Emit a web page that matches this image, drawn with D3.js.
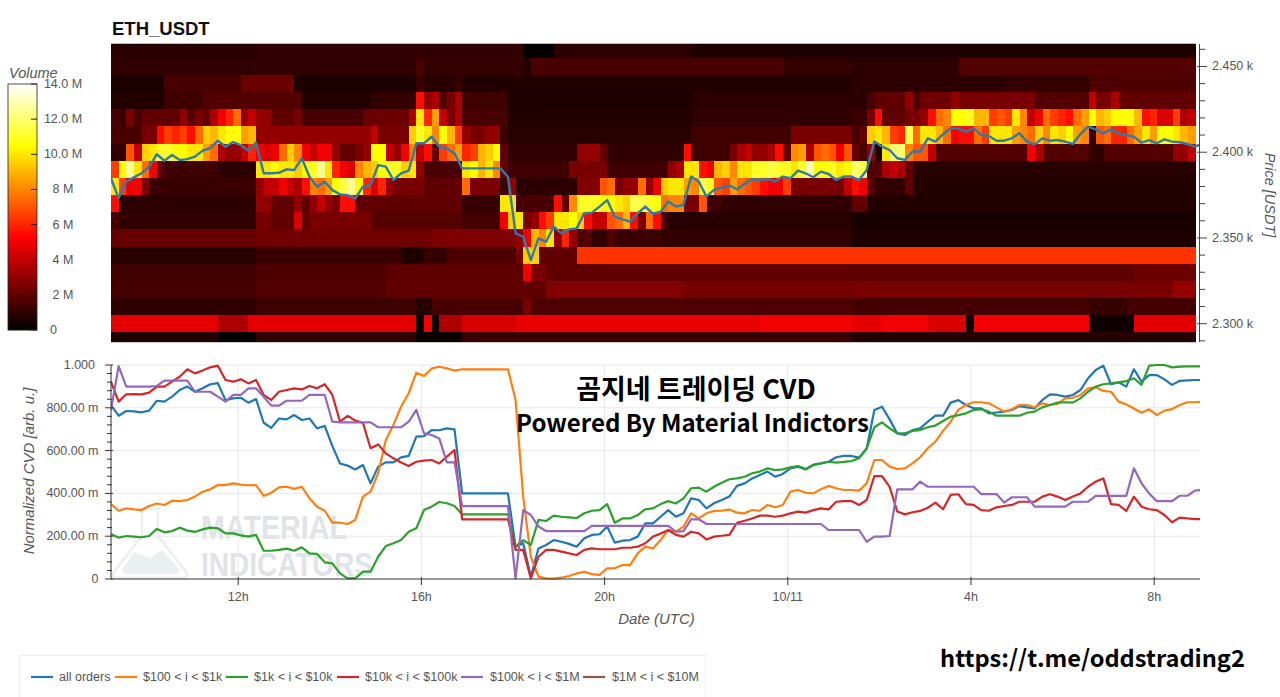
<!DOCTYPE html>
<html><head><meta charset="utf-8">
<style>html,body{margin:0;padding:0;background:#fff;overflow:hidden}svg{display:block}
text{font-family:"Liberation Sans",Arial,sans-serif}</style>
<script src="https://cdn.jsdelivr.net/npm/d3@7"></script></head><body><svg id="c" width="1280" height="697"></svg>
<script>
// ---- DATA ----
const title = "ETH_USDT";
const legendLabels = ["all orders","$100 < i < $1k","$1k < i < $10k","$10k < i < $100k","$100k < i < $1M","$1M < i < $10M"];
const seriesColors = ["#1f77b4","#ff7f0e","#2ca02c","#d62728","#9467bd","#8c564b"];
const volumeTicks = [0,2,4,6,8,10,12,14];
const priceTicks = [2300,2350,2400,2450];
const cvdTicks = [0,200,400,600,800,1000];

// heatmap: for each price bin, [first column, volume in M] runs over 142 columns
const heat2460=[[0,.8],[19,1],[54,.1],[58,.9],[76,.6]];
const heat2450=[[0,1],[40,1.5],[41,1.1],[54,.8],[55,1.5],[88,1.1],[97,.9],[111,1.7]];
const heat2440=[[0,.6],[7,1.5],[17,2.2],[24,.6],[40,1.2],[41,.8],[45,1.2],[46,.7],[97,.9],[117,1.1],[128,1.6]];
const heat2430=[[0,.7],[7,1.3],[12,1.7],[25,.7],[34,1.1],[40,5.5],[41,3],[42,3.5],[43,1.7],[44,2.5],[45,3.5],[46,1.3],[52,.6],[76,.9],[99,1.5],[100,2],[104,3],[105,1.5],[106,2.3],[110,3],[111,2.5],[121,1.7],[128,4],[129,2.5],[131,3.5],[132,2]];
const heat2420=[[0,1.5],[1,1.2],[2,2.5],[3,1.5],[4,2],[9,3],[10,1.8],[11,2.5],[12,2],[13,3.5],[14,5],[15,6],[16,7.5],[17,3],[18,4],[19,3],[21,2],[24,2.5],[25,1.5],[33,2.2],[39,3.5],[40,10],[41,6],[42,8.5],[43,4],[44,2.5],[45,3.5],[46,1.5],[52,.7],[76,1],[97,1.2],[99,2.5],[100,5.5],[101,2],[104,2.5],[106,3],[107,5.5],[108,7.5],[109,8],[110,10.5],[112,11],[113,9],[115,6.5],[116,7],[117,6.5],[118,10],[119,8],[120,4],[121,5],[122,7.5],[123,6.5],[124,6],[125,5.5],[126,7.5],[127,8.5],[128,10.5],[129,9],[130,9.5],[131,10.5],[134,9],[135,5.5],[136,6],[137,4.5],[139,6.5],[140,3.5],[141,4]];
const heat2410=[[0,1.5],[4,2.5],[6,5.5],[7,6.5],[8,6],[9,6.5],[10,5.5],[11,7.5],[12,9.5],[13,9],[14,10],[15,10.5],[17,8.5],[18,9],[19,3],[34,4],[35,2.5],[39,9.5],[40,11],[41,10],[42,8],[43,10.5],[44,9],[45,6.5],[46,3],[47,2.5],[49,3],[51,1.2],[52,.8],[76,1.3],[89,2.5],[97,1.5],[98,2],[99,9.5],[100,10],[101,9],[102,6.5],[103,6],[104,11.5],[105,7.5],[106,10],[108,9],[109,7.5],[110,5],[111,5.5],[113,7.5],[114,6.5],[115,10],[118,8.5],[119,8],[120,7.5],[121,9.5],[122,8],[123,10],[124,9.5],[125,10.5],[126,8.5],[127,8],[128,1],[129,7],[130,7.5],[131,6],[133,7.5],[134,8.5],[135,10],[136,8.5],[137,10.5],[139,10],[140,9],[141,8.5]];
const heat2400=[[0,1],[2,7],[3,4],[4,9.5],[5,10],[6,11],[8,10.5],[10,10],[12,8.5],[13,7.5],[14,3.5],[15,3],[17,4],[18,6],[19,5],[20,4.5],[21,5],[22,7.5],[23,9.5],[24,8],[25,5],[26,4],[27,5],[29,3],[30,2],[32,2.5],[33,3],[34,10.5],[36,4],[37,3],[38,5],[39,8],[40,4],[41,5.5],[42,2],[43,6.5],[44,7.5],[45,8.5],[46,6],[47,6.5],[48,9],[49,9.5],[50,10.5],[51,2],[52,1],[61,3],[64,2],[65,1],[75,5.5],[76,1.3],[81,2.5],[82,3.5],[83,4],[84,3],[86,3.5],[87,5.5],[88,2],[89,8],[90,8.5],[91,3.5],[92,7],[93,7.5],[94,7],[95,5],[96,7],[97,2],[98,1.5],[99,3],[100,.5],[101,10],[102,12],[104,8],[105,7],[107,4],[108,1.7],[120,5],[121,3.5],[122,1.7],[128,1],[130,1.7],[139,3],[141,4]];
const heat2390=[[0,6.5],[1,10.5],[2,12.5],[3,10],[4,7.5],[5,5],[6,2],[7,1.3],[14,.9],[19,10],[21,10.5],[22,10],[24,9.5],[25,10.5],[26,11],[27,12.5],[28,10],[29,6],[30,5],[31,4.5],[32,8],[33,9],[34,9.5],[35,10.5],[36,11],[38,9.5],[39,10],[40,3],[41,1.5],[46,10],[47,10.5],[48,9],[49,10],[50,8],[51,2],[52,1.3],[60,2.5],[65,1.3],[73,3],[74,3.5],[75,10],[77,5.5],[78,5],[79,9],[80,9.5],[81,8],[82,10],[84,11],[86,11.5],[87,11],[89,10],[90,11],[91,13],[92,10.5],[94,11],[95,10],[96,10.5],[97,12],[98,11.5],[99,1.7],[101,3.5],[102,4],[103,3.5],[104,2],[105,.8]];
const heat2380=[[0,10],[1,6.5],[2,5],[4,2.5],[5,1.2],[19,3],[20,4],[22,5],[23,4],[24,3.5],[25,5.5],[26,8],[27,7.5],[28,8.5],[29,10.5],[30,11.5],[31,12.5],[32,10.5],[33,6],[34,4.5],[35,6],[36,3],[37,2.5],[41,2],[46,7.5],[47,2.5],[51,1.2],[52,3],[53,.9],[61,2.7],[64,7],[65,7.5],[66,2.5],[67,3],[69,7.5],[70,3],[71,5],[72,9.5],[73,10],[75,8.5],[76,8],[77,11.5],[78,11],[79,7],[80,6.5],[81,8.5],[82,7.5],[83,7],[84,6.5],[85,5.5],[86,5],[88,6.5],[89,2.5],[96,4],[97,5.5],[98,5],[99,1.7],[100,1],[104,2],[105,.7]];
const heat2370=[[0,5.5],[1,.9],[19,3],[21,2],[24,3],[25,2],[26,3],[27,4],[28,3],[29,2.5],[30,5.5],[32,2],[46,1.1],[51,10],[53,1.5],[58,5.5],[59,2],[60,8],[61,11],[64,10.5],[66,10],[67,9.5],[68,11.5],[70,11],[71,10.5],[72,7.5],[73,8],[75,2.5],[77,7],[78,1.3],[80,1],[97,2],[99,.7]];
const heat2360=[[0,1.5],[1,1],[19,2.5],[21,2],[24,4.5],[25,2],[26,2.5],[34,1.8],[46,1.4],[51,5],[52,9.5],[53,10],[54,2.5],[55,3],[56,5.5],[57,6.5],[58,10],[60,10.5],[61,9.5],[62,5.5],[63,4],[65,7],[66,7.5],[67,9],[68,5.5],[69,2.5],[70,7.5],[71,5.5],[72,1.5],[73,.8],[97,.5]];
const heat2350=[[0,2.1],[19,2.3],[42,2.6],[53,3],[54,5],[55,9],[56,8],[57,10],[58,3],[59,6],[60,3],[61,1.5],[62,1.8],[63,1],[65,1.7],[66,1.2],[72,1],[97,.6]];
const heat2340=[[0,.8],[19,1.2],[38,.6],[41,1.2],[42,1],[44,1.6],[53,2.5],[54,9.5],[56,2],[61,6.3]];
const heat2330=[[0,1.3],[19,1.6],[36,1.9],[54,5],[55,2.5],[57,2],[97,1.9],[134,2.2]];
const heat2320=[[0,1.4],[19,1.7],[36,2],[57,2.7],[75,2.4],[97,2.5],[139,3.1]];
const heat2310=[[0,.95],[19,1.3],[40,.8],[42,1.5],[54,2.5],[55,1.6],[97,1.4],[128,1.1],[133,1.4]];
const heat2300=[[0,4.7],[14,3.6],[18,4.7],[40,.2],[41,5],[42,.2],[43,3.6],[46,4.4],[53,4.8],[85,5],[97,4.7],[101,5],[107,4.5],[112,.3],[113,5],[128,.3],[134,4.7]];
const heat2290=[[0,.7],[14,.1],[19,1],[40,.2],[46,1.2],[97,.8]];
const heatBins=[2460,2450,2440,2430,2420,2410,2400,2390,2380,2370,2360,2350,2340,2330,2320,2310,2300,2290];
const heatRuns=[heat2460,heat2450,heat2440,heat2430,heat2420,heat2410,heat2400,heat2390,heat2380,heat2370,heat2360,heat2350,heat2340,heat2330,heat2320,heat2310,heat2300,heat2290];
const columnCount=142;

const price=[2384.8,2373.1,2382.8,2385.3,2387.7,2391.6,2398.8,2395,2398.4,2395.4,
2396,2397.4,2400.9,2402.3,2406.7,2403.2,2405.9,2404.2,2400.9,2405.6,
2387.7,2387.7,2388,2390,2389.6,2396.4,2385.7,2379.9,2382.8,2377.9,
2375.4,2375,2373,2379.9,2380.9,2392.5,2391.6,2383.8,2387.7,2389.2,
2405.2,2405.2,2409,2403.2,2402.2,2399.3,2390.6,2390.6,2390.6,2390.6,
2390.6,2390.6,2385.7,2352.7,2350.7,2337.1,2349.8,2347.8,2356.6,2352.7,
2355,2355.6,2364.4,2364.8,2368.3,2372.1,2362.4,2360.9,2359.5,2364.4,
2368.3,2364,2365.3,2371.2,2368.3,2369.2,2385.8,2382.9,2374.1,2378,
2379.4,2380.7,2378.4,2381.5,2384.4,2383.8,2384.4,2382.9,2385.8,2384.8,
2389.3,2387.7,2385.4,2388.7,2387.3,2383.8,2385.8,2385.8,2383.8,2389.6,
2406.2,2403.3,2401.3,2396.5,2395.5,2400.4,2400.4,2408.1,2406.2,2410.5,
2413.8,2413.8,2412,2414,2410,2409.5,2406.7,2406.7,2408.1,2411,
2406.2,2404.6,2408.1,2406.7,2407.1,2406.2,2404.8,2410.6,2414.9,2413.3,
2411,2413.3,2411,2410,2409,2405.6,2407.1,2405.2,2407.5,2406.2,
2405.8,2404.8,2403.3,2405];

const allOrders=[813,763,785,783,779,787,833,829,852,883,
899,875,891,910,915,836,844,847,824,841,
730,706,750,746,766,743,750,704,715,621,
540,530,512,533,447,525,545,545,568,575,
665,668,696,695,704,699,400,400,400,400,
400,400,400,151,167,11,143,159,182,174,
164,151,190,206,209,245,170,179,182,198,
260,260,291,322,291,307,377,369,330,354,
369,385,435,447,470,486,502,478,491,517,
525,512,533,540,548,569,575,575,567,610,
790,805,746,680,673,696,704,735,763,763,
824,836,813,798,797,774,778,782,790,808,
802,797,836,863,860,852,860,883,938,977,
997,910,919,899,980,922,953,953,933,907,
926,928,930,930];
const range100=[350,319,330,325,322,341,353,346,366,364,
369,385,408,419,439,439,447,441,438,439,
388,403,428,431,421,431,377,338,319,263,
263,257,276,385,408,494,650,720,805,868,
964,949,984,992,984,974,980,980,980,980,
980,980,980,836,385,104,11,3,2,6,
14,26,34,23,19,50,50,65,65,120,
151,143,182,229,221,245,307,283,307,318,
319,325,310,307,322,319,346,335,346,408,
416,403,400,419,435,424,416,416,413,447,
556,556,525,514,517,540,569,611,642,692,
735,790,813,826,826,821,802,782,793,813,
813,802,821,813,818,844,847,860,891,896,
879,875,829,816,797,777,793,766,787,794,
813,826,826,829];
const range1k=[210,193,201,198,195,201,234,218,224,240,
226,220,232,240,237,213,213,204,198,206,
132,132,136,142,132,148,120,117,78,73,
26,3,3,34,34,104,154,167,182,221,
237,322,338,360,354,341,302,302,302,302,
302,302,302,151,182,159,276,271,296,291,
288,285,307,319,322,350,263,283,283,299,
326,330,350,364,353,377,424,427,408,431,
450,466,470,478,494,502,517,509,512,522,
528,514,533,540,548,544,547,551,564,611,
709,732,704,681,681,692,696,709,717,738,
759,766,774,790,793,782,763,763,763,763,
777,782,802,813,824,826,824,844,875,899,
910,914,919,925,938,907,997,1000,1000,989,
992,994,994,994];
const range10k=[922,829,863,864,863,871,899,899,922,945,
980,961,974,989,997,930,922,933,914,930,
860,836,875,883,891,886,902,891,910,860,
735,762,740,730,611,629,587,564,544,528,
548,553,556,540,572,603,279,279,279,279,
279,279,279,136,136,3,104,136,136,128,
120,112,136,143,139,139,139,146,146,151,
167,198,213,229,206,198,221,213,185,198,
202,206,263,272,283,296,296,291,296,307,
315,310,322,330,325,361,364,364,346,369,
481,481,431,315,302,312,318,333,357,326,
393,396,350,346,322,319,335,341,346,361,
361,361,385,396,385,369,385,400,431,455,
470,350,346,318,385,338,326,322,299,265,
287,283,280,280];
const range100k=[790,995,899,899,899,899,902,927,927,927,
927,875,875,875,852,829,860,860,891,891,
852,810,810,833,833,833,860,860,860,735,
732,732,732,732,732,709,709,709,709,735,
790,681,673,657,545,545,341,341,341,341,
341,341,341,3,322,299,245,224,224,224,
224,224,224,248,248,248,248,248,248,248,
248,248,248,248,221,224,279,279,257,257,
257,257,257,257,257,257,257,257,257,257,
257,257,257,257,229,229,229,229,229,174,
198,198,201,419,419,419,455,431,431,431,
431,431,431,431,397,397,397,357,382,382,
382,338,338,338,338,338,361,361,361,388,
388,388,388,388,517,447,400,364,364,364,
389,389,413,416];
const cvdSeries=[allOrders,range100,range1k,range10k,range100k];

// ---- SCALES ----
const svg=d3.select("#c");
const tStart=Date.UTC(2021,10,9,9,13,24), tEnd=Date.UTC(2021,10,10,9,0,0), tHeatEnd=Date.UTC(2021,10,10,8,54,0);
const tenMin=600000;
const x=d3.scaleUtc().domain([tStart,tEnd]).range([111,1200]);
const yPrice=d3.scaleLinear().domain([2289.33,2463.1]).range([342,44]);
const yCvd=d3.scaleLinear().domain([0,1000]).range([579,365]);
const colBand=d3.scaleBand().domain(d3.range(columnCount)).range([x(tStart),x(tHeatEnd)]);
const hot=v=>{const t=Math.max(0,Math.min(1,v/14));
  const r=Math.min(1,t/.375),g=Math.max(0,Math.min(1,(t-.375)/.375)),b=Math.max(0,(t-.75)/.25);
  return `rgb(${Math.round(r*255)},${Math.round(g*255)},${Math.round(b*255)})`;};
const defs=svg.append("defs");
defs.append("clipPath").attr("id","heatClip").append("rect").attr("x",111).attr("y",44).attr("width",1085).attr("height",298);
defs.append("clipPath").attr("id","lineClip").append("rect").attr("x",111).attr("y",44).attr("width",1089).attr("height",298);
defs.append("clipPath").attr("id","cvdClip").append("rect").attr("x",111).attr("y",363).attr("width",1089).attr("height",218);

// ---- TITLE ----
svg.append("text").attr("x",112).attr("y",34.5).attr("font-size",18.5).attr("font-weight",700).attr("fill","#111").text(title);

// ---- HEATMAP ----
const heat=svg.append("g").attr("clip-path","url(#heatClip)").attr("shape-rendering","crispEdges");
heatBins.forEach((p,r)=>{
  const runs=heatRuns[r];
  runs.forEach((run,k)=>{
    const end=k+1<runs.length?runs[k+1][0]:columnCount;
    for(let c=run[0];c<end;c++){
      heat.append("rect").attr("x",colBand(c)).attr("width",colBand.bandwidth()+.4)
        .attr("y",yPrice(p+5)).attr("height",yPrice(p-5)-yPrice(p+5)+.4)
        .attr("fill",hot(run[1]));
    }
  });
});
svg.append("line").attr("x1",111).attr("x2",1196).attr("y1",43.5).attr("y2",43.5).attr("stroke","#bbb");
svg.append("line").attr("x1",111).attr("x2",1196).attr("y1",342.5).attr("y2",342.5).attr("stroke","#ccc");
const priceLine=d3.line().x((d,i)=>x(tStart+i*tenMin)).y(d=>yPrice(d));
svg.append("path").attr("clip-path","url(#lineClip)").datum(price).attr("d",priceLine).attr("fill","none").attr("stroke","#2e7bab").attr("stroke-width",2.4).attr("stroke-linejoin","round");

// right axis
const rAxis=svg.append("g");
rAxis.append("line").attr("x1",1199.5).attr("x2",1199.5).attr("y1",44).attr("y2",342).attr("stroke","#444");
d3.range(2290,2461,10).forEach(p=>{
  const major=priceTicks.includes(p);
  rAxis.append("line").attr("x1",major?1197:1199.5).attr("x2",major?1207:1205).attr("y1",yPrice(p)).attr("y2",yPrice(p)).attr("stroke","#444");
});
priceTicks.forEach(p=>rAxis.append("text").attr("x",1212).attr("y",yPrice(p)+4).attr("font-size",12.5).attr("fill","#555").text((p/1000).toFixed(3)+" k"));
svg.append("text").attr("transform","translate(1265,195) rotate(90)").attr("text-anchor","middle").attr("font-size",14.5).attr("font-style","italic").attr("fill","#555").text("Price [USDT]");

// ---- COLOR BAR ----
const yVol=d3.scaleLinear().domain([0,14]).range([330,84]);
const barG=svg.append("g");
d3.range(0,246).forEach(k=>barG.append("rect").attr("x",8).attr("width",29).attr("y",84+k).attr("height",1.2).attr("fill",hot(yVol.invert(84+k+.5))));
barG.append("rect").attr("x",8).attr("y",84).attr("width",29).attr("height",246).attr("fill","none").attr("stroke","#222").attr("stroke-width",.8);
volumeTicks.forEach(v=>{
  barG.append("line").attr("x1",31).attr("x2",37).attr("y1",yVol(v)).attr("y2",yVol(v)).attr("stroke","#222");
  const s=v===0?"0":(v>=10?v.toFixed(1)+" M":v+" M");
  barG.append("text").attr("x",v===0?53.5:63).attr("text-anchor","middle").attr("y",yVol(v)+4).attr("font-size",12.5).attr("fill","#555").text(s);
});
svg.append("text").attr("x",9).attr("y",78).attr("font-size",14.5).attr("font-style","italic").attr("fill","#555").text("Volume");

// ---- WATERMARK ----
const wm=svg.append("g");
wm.append("path").attr("d","M140 509 L160 509 M142 509 L142 536 L114 572 Q111 578 118 578 L183 578 Q190 578 186 572 L158 536 L158 509")
  .attr("fill","none").attr("stroke","#eceef0").attr("stroke-width",2.5);
wm.append("path").attr("d","M122 570 L134 552 L150 558 L162 550 L180 570 Q180 574 176 574 L126 574 Z").attr("fill","#e8f0f0");
wm.append("text").attr("x",201).attr("y",539).attr("font-size",34).attr("font-weight",700).attr("fill","#e0e3e7").attr("textLength",146).attr("lengthAdjust","spacingAndGlyphs").text("MATERIAL");
wm.append("text").attr("x",201).attr("y",576).attr("font-size",34).attr("font-weight",700).attr("fill","#e0e3e7").attr("textLength",172).attr("lengthAdjust","spacingAndGlyphs").text("INDICATORS");

// ---- CVD PANEL ----
const grid=svg.append("g").attr("stroke","#e8e8e8");
cvdTicks.slice(1).forEach(v=>grid.append("line").attr("x1",111).attr("x2",1200).attr("y1",yCvd(v)).attr("y2",yCvd(v)));
const timeTicks=x.ticks(d3.utcHour.every(4));
timeTicks.forEach(t=>grid.append("line").attr("x1",x(t)).attr("x2",x(t)).attr("y1",365).attr("y2",579));
const cvdLine=d3.line().x((d,i)=>x(tStart+i*tenMin)).y(d=>yCvd(d));
const lines=svg.append("g").attr("clip-path","url(#cvdClip)");
cvdSeries.forEach((s,i)=>lines.append("path").datum(s).attr("d",cvdLine).attr("fill","none").attr("stroke",seriesColors[i]).attr("stroke-width",2.2).attr("stroke-linejoin","round"));

// left axis
const lAxis=svg.append("g");
lAxis.append("line").attr("x1",111).attr("x2",111).attr("y1",365).attr("y2",579).attr("stroke","#333");
d3.range(0,1001,40).forEach(v=>{
  const major=v%200===0;
  lAxis.append("line").attr("x1",major?105:107).attr("x2",major?113:112).attr("y1",yCvd(v)).attr("y2",yCvd(v)).attr("stroke","#333");
});
cvdTicks.forEach(v=>lAxis.append("text").attr("x",v===1000?95:98.5).attr("text-anchor","end").attr("y",yCvd(v)+4).attr("font-size",12.5).attr("fill","#555")
  .text(v===0?"0":v===1000?"1.000":v.toFixed(2)+" m"));
svg.append("text").attr("transform","translate(34,471) rotate(-90)").attr("text-anchor","middle").attr("font-size",15).attr("font-style","italic").attr("fill","#555").text("Normalized CVD [arb. u.]");

// bottom axis
const bAxis=svg.append("g");
bAxis.append("line").attr("x1",111).attr("x2",1200).attr("y1",579).attr("y2",579).attr("stroke","#333");
timeTicks.forEach(t=>{
  bAxis.append("line").attr("x1",x(t)).attr("x2",x(t)).attr("y1",577).attr("y2",585).attr("stroke","#333");
  const d=new Date(t);
  const s=d.getUTCHours()===0?String(d.getUTCDate())+"/"+(d.getUTCMonth()+1):d.getUTCHours()+"h";
  bAxis.append("text").attr("x",x(t)).attr("y",601).attr("text-anchor","middle").attr("font-size",12.5).attr("fill","#555").text(s);
});
svg.append("text").attr("x",656.5).attr("y",624).attr("text-anchor","middle").attr("font-size",15).attr("font-style","italic").attr("fill","#555").text("Date (UTC)");

// ---- LEGEND ----
svg.append("rect").attr("x",19.5).attr("y",655.5).attr("width",686).attr("height",50).attr("fill","#fff").attr("stroke","#eee");
const legendLineX=[31,115,226,337,461,583], legendTextX=[59,143,254,365,490,612];
legendLabels.forEach((l,i)=>{
  svg.append("line").attr("x1",legendLineX[i]).attr("x2",legendLineX[i]+22).attr("y1",677).attr("y2",677).attr("stroke",seriesColors[i]).attr("stroke-width",2.2);
  svg.append("text").attr("x",legendTextX[i]).attr("y",681).attr("font-size",12.5).attr("fill","#555").text(l);
});

// ---- OVERLAID TEXT ----
const kr='"Noto Sans CJK KR","Noto Sans",sans-serif';
svg.append("text").attr("x",696).attr("y",399).attr("text-anchor","middle").attr("font-size",27).attr("font-weight",700).attr("fill","#000").style("font-family",kr).text("곰지네 트레이딩 CVD");
svg.append("text").attr("x",692.5).attr("y",432).attr("text-anchor","middle").attr("font-size",24).attr("font-weight",700).attr("fill","#000").style("font-family",kr).text("Powered By Material Indictors");
svg.append("text").attr("x",1092.5).attr("y",667).attr("text-anchor","middle").attr("font-size",23.6).attr("font-weight",700).attr("fill","#000").style("font-family",kr).text("https://t.me/oddstrading2");
</script></body></html>
